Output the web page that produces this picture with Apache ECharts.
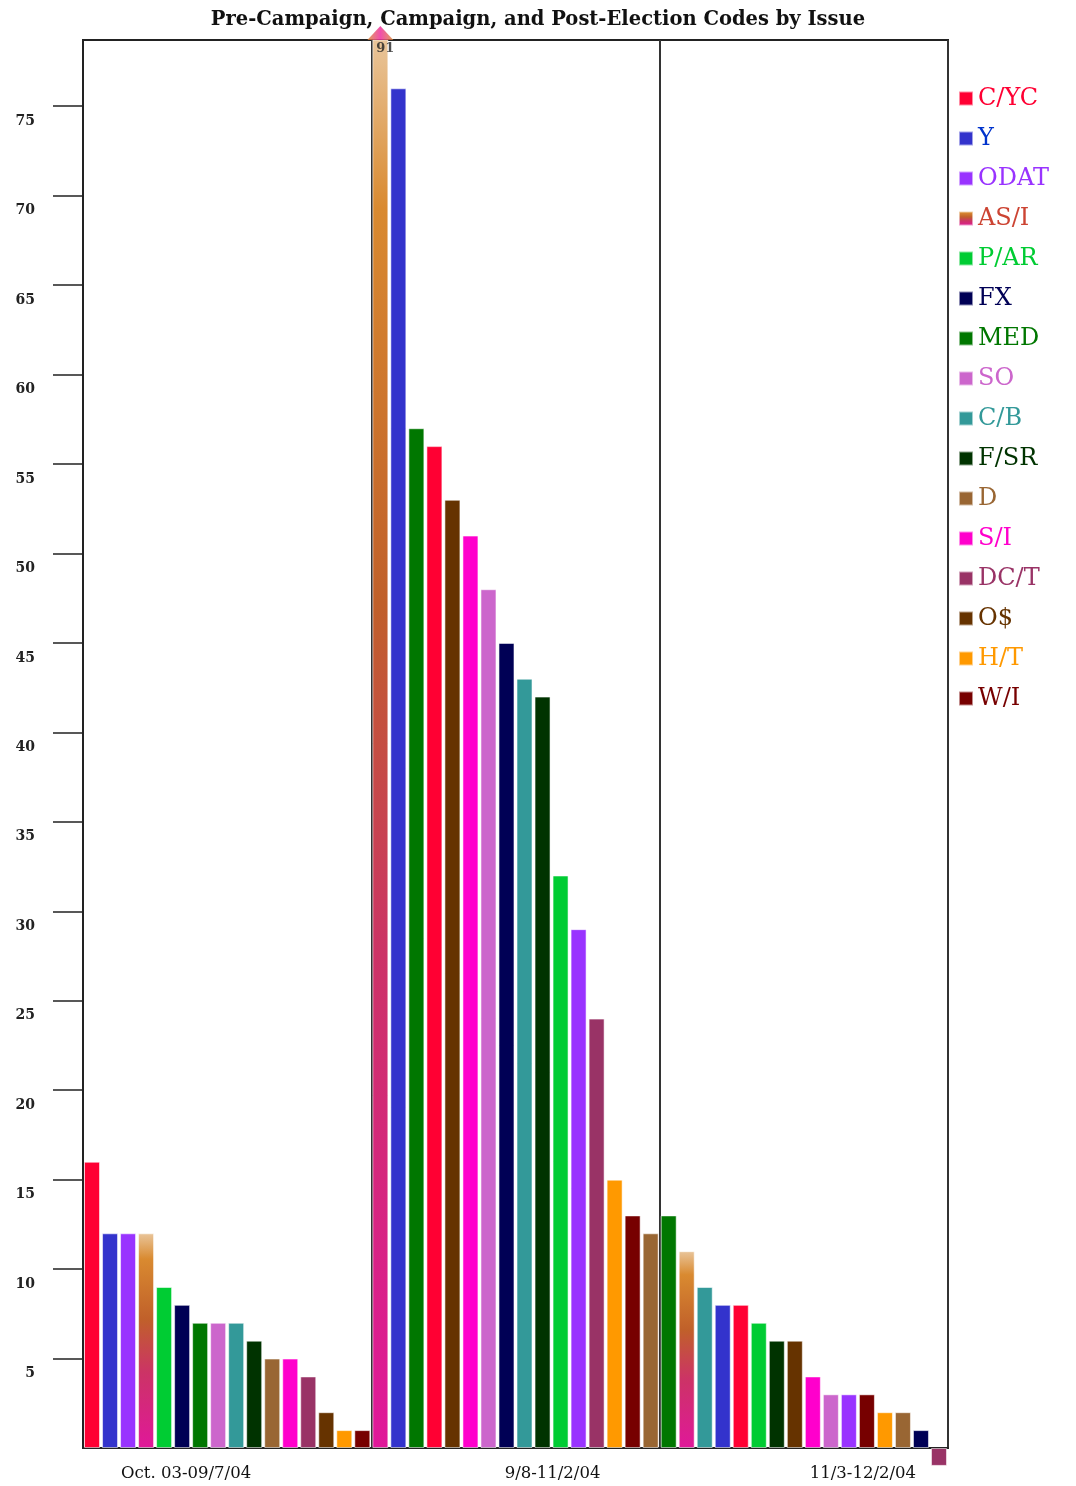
<!DOCTYPE html>
<html>
<head>
<meta charset="utf-8">
<script src="https://cdn.jsdelivr.net/npm/echarts@6/dist/echarts.min.js"></script>
<style>html,body{margin:0;padding:0;background:#fff}#c{width:1076px;height:1486px}</style>
</head>
<body>
<div id="c"></div>
<script>
// ---- data ----
const issues = ['C/YC','Y','ODAT','AS/I','P/AR','FX','MED','SO','C/B','F/SR','D','S/I','DC/T','O$','H/T','W/I'];
const issueColors = ['#ff0033','#3333cc','#9933ff','gradient','#00cc33','#000055','#007700','#cc66cc','#339999','#003300','#996633','#ff00cc','#993366','#663300','#ff9900','#770000'];
const legendTextColors = ['#ff0033','#0033cc','#9933ff','#cc4433','#00cc33','#000055','#007700','#cc66cc','#339999','#003300','#996633','#ff00cc','#993366','#663300','#ff9900','#770000'];
const periodLabels = ['Oct. 03-09/7/04','9/8-11/2/04','11/3-12/2/04'];
// values in the order of `issues`
const preValues      = [16,12,12,12, 9, 8, 7, 7, 7, 6, 5, 5, 4, 2, 1, 1];
const campaignValues = [56,76,29,91,32,45,57,48,43,42,12,51,24,53,15,13];
const postValues     = [ 8, 8, 3,11, 7, 1,13, 3, 9, 6, 2, 4,-1, 6, 2, 3];
// display order of bars within each period
const preOrder      = ['C/YC','Y','ODAT','AS/I','P/AR','FX','MED','SO','C/B','F/SR','D','S/I','DC/T','O$','H/T','W/I'];
const campaignOrder = ['AS/I','Y','MED','C/YC','O$','S/I','SO','FX','C/B','F/SR','P/AR','ODAT','DC/T','H/T','W/I','D'];
const postOrder     = ['MED','AS/I','C/B','Y','C/YC','P/AR','F/SR','O$','S/I','SO','ODAT','W/I','H/T','D','FX','DC/T'];
const yTickLabels = ['5','10','15','20','25','30','35','40','45','50','55','60','65','70','75'];

// ---- build ----
const periods = [
  {values: preValues, order: preOrder},
  {values: campaignValues, order: campaignOrder},
  {values: postValues, order: postOrder}
];
const perGroup = issues.length;
const nSlots = perGroup * periods.length;
const yMax = 78.7;
const labelSlots = {
  5:  {text: periodLabels[0], padding:[0,0,0,8]},
  26: {text: periodLabels[1], padding:[0,16,0,0]},
  43: {text: periodLabels[2], padding:[0,8,0,0]}
};
const categories = [];
for (let i = 0; i < nSlots; i++) {
  const l = labelSlots[i];
  categories.push(l ? {value: l.text, textStyle:{padding: l.padding}} : {value: ' '.repeat(i % 2 + 1) + i});
}

const asiGradient = {type:'linear', x:0, y:0, x2:0, y2:1, colorStops:[
  {offset:0, color:'#e9c59a'},
  {offset:0.12, color:'#d98a30'},
  {offset:0.4, color:'#c0602a'},
  {offset:0.65, color:'#cc3366'},
  {offset:1, color:'#e0189a'}
]};

const series = [];
const overflow = [];
issues.forEach((name, i) => {
  const data = new Array(nSlots).fill('-');
  let exceeds = false;
  periods.forEach((p, pi) => {
    const slot = pi * perGroup + p.order.indexOf(name);
    const v = p.values[i];
    data[slot] = v;
    if (v > yMax) { exceeds = true; overflow.push({value:[slot, yMax], real:v}); }
  });
  const color = issueColors[i] === 'gradient' ? asiGradient : issueColors[i];
  series.push({
    type:'bar', name, data, barWidth:16, barGap:'-100%',
    clip: exceeds,
    itemStyle:{color, borderColor:'rgba(255,255,255,0.55)', borderWidth:1},
    emphasis:{disabled:true}
  });
});
series.push({
  type:'scatter', name:'overflow', data: overflow, clip:false, z:5,
  symbol:'triangle', symbolSize:[26,14], symbolOffset:[0,-7],
  itemStyle:{color:{type:'linear',x:0,y:0,x2:1,y2:0,colorStops:[
    {offset:0,color:'#d98a30'},{offset:0.5,color:'#ee2299'},{offset:1,color:'#d98a30'}]}},
  label:{show:true, position:'bottom', distance:2, offset:[5,0],
    formatter: p => String(p.data.real),
    fontFamily:'DejaVu Serif', fontWeight:'bold', fontSize:13, color:'#222'}
});

const chart = echarts.init(document.getElementById('c'), null, {renderer:'canvas'});
chart.setOption({
  animation:false,
  backgroundColor:'#fff',
  title:{text:'Pre-Campaign, Campaign, and Post-Election Codes by Issue', left:'center', top:5,
    textStyle:{fontFamily:'DejaVu Serif', fontWeight:'bold', fontSize:19.5, color:'#111'}},
  legend:{
    orient:'vertical', left:953, top:80, itemWidth:14, itemHeight:14, itemGap:13, icon:'rect',
    data: issues.map((n,i)=>({name:n, textStyle:{color:legendTextColors[i]}})),
    textStyle:{fontFamily:'DejaVu Serif', fontSize:24, lineHeight:27},
    selectedMode:false
  },
  grid:{left:83, right:128, top:40, bottom:38, show:true, borderColor:'#222', borderWidth:2, containLabel:false},
  xAxis:{
    type:'category', data:categories, boundaryGap:true,
    axisLine:{show:true, lineStyle:{color:'#222', width:2}},
    axisTick:{show:false},
    axisLabel:{interval:(idx)=> !!labelSlots[idx], margin:17, fontFamily:'DejaVu Serif', fontSize:16.5, color:'#111'},
    splitLine:{show:true, interval:(idx)=> idx===perGroup || idx===2*perGroup, lineStyle:{color:'#333', width:2}}
  },
  yAxis:{
    type:'value', min:0, max:yMax, interval:5,
    axisLine:{show:true, lineStyle:{color:'#222', width:2}},
    axisTick:{show:true, length:30, lineStyle:{color:'#222', width:1.5}},
    splitLine:{show:false},
    axisLabel:{showMinLabel:false, showMaxLabel:false, margin:48, align:'right', verticalAlign:'top',
      padding:[8,0,0,0], fontFamily:'DejaVu Serif', fontWeight:'bold', fontSize:14, color:'#222',
      formatter: v => { const idx = yTickLabels.indexOf(String(v)); return idx >= 0 ? yTickLabels[idx] : ''; }}
  },
  series
});
</script>
</body>
</html>
